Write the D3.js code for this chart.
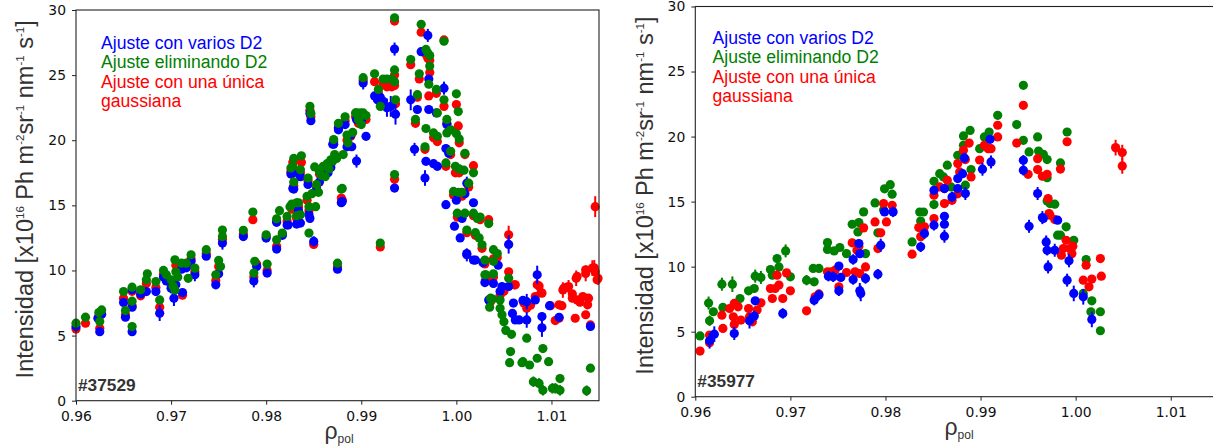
<!DOCTYPE html>
<html>
<head>
<meta charset="utf-8">
<script src="https://cdn.jsdelivr.net/npm/d3@7"></script>
<style>
  body { margin: 0; background: #fff; }
  svg text { font-family: "DejaVu Sans", sans-serif; }
</style>
</head>
<body>
<div id="chart"></div>
<script>
// ---- data ----
const xTicks = [0.96, 0.97, 0.98, 0.99, 1.00, 1.01];
const yTicks = [0, 5, 10, 15, 20, 25, 30];
const legendLabels = ["Ajuste con varios D2", "Ajuste eliminando D2", "Ajuste con una única", "gaussiana"];
const shotLabels = ["#37529", "#35977"];

// [rho, intensity, error]  (error left out = small bar hidden by marker)
const leftBlue = [
  [0.9600,5.7],[0.9625,5.3],[0.9623,6.33],[0.9627,6.64],[0.9650,7.54],[0.9652,6.41],[0.9659,8.51],
  [0.9659,7.18],[0.9659,5.3],[0.9668,8.2],[0.9674,8.38],[0.9684,8.38],[0.9688,6.72,0.6],[0.9692,9.5],
  [0.9695,9.2],[0.9700,8.64,0.4],[0.9703,7.87,0.6],[0.9705,8.9],[0.9711,10.1],[0.9716,10.2],[0.9712,8.3],
  [0.9721,10.7],[0.9725,9.67,0.5],[0.9737,11.1],[0.9750,9.74],[0.9747,8.9],[0.9754,12.1,0.5],[0.9776,12.6],
  [0.9787,9.2,0.5],[0.9790,10.3],[0.9800,12.49],[0.9801,9.8],[0.9811,13.7],[0.9811,11.64],[0.9817,12.7],
  [0.9822,13.5],[0.9823,13.5],[0.9826,17.4],[0.9828,17.48],[0.9829,16.25],[0.9828,16.3],[0.9832,13.56],
  [0.9836,13.64],[0.9836,17.2],[0.9834,14.6],[0.9844,16.6],[0.9845,14.3],[0.9846,14.0],[0.9846,22.05],
  [0.9847,21.5],[0.9850,12.23,0.4],[0.9853,16.2],[0.9856,16.8],[0.9860,17.2],[0.9865,17.5],[0.9868,17.9],
  [0.9871,19.7],[0.9870,19.7],[0.9875,10.1],[0.9876,20.8],[0.9876,20.9],[0.9879,15.2],[0.9880,15.3],
  [0.9883,21.2],[0.9885,19.5],[0.9889,20.4],[0.9890,19.5],[0.9895,18.4,0.5],[0.9895,21.6],[0.9900,21.5],
  [0.9902,24.4,0.5],[0.9905,20.3],[0.9914,23.4],[0.9917,23.1],[0.9920,23.3],[0.9923,23.0],[0.9927,22.5,0.7],
  [0.9931,22.6,0.8],[0.9935,27.0,0.5],[0.9936,22.0,0.8],[0.9935,16.33],[0.9952,23.1,0.8],[0.9956,19.3,0.5],
  [0.9959,22.36],[0.9963,26.8],[0.9967,17.1,0.6],[0.9968,18.38],[0.9970,28.05,0.5],[0.9971,24.7],
  [0.9971,22.36],[0.9976,18.2],[0.9979,22.1],[0.9980,18.0],[0.9987,24.0,0.5],[0.9989,19.36],[0.9989,15.05],
  [0.9990,21.2],[0.9992,19.0],[0.9998,13.4],[1.0000,15.4],[1.0004,12.5],[1.0006,14.0],[1.0009,15.9],
  [1.0011,16.7,0.5],[1.0011,11.2,0.5],[1.0011,11.3],[1.0018,15.2],[1.0018,10.8],[1.0020,10.8],[1.0028,10.6],
  [1.0030,9.07],[1.0034,7.74],[1.0039,9.0],[1.0044,10.4],[1.0046,8.4],[1.0048,8.77],[1.0055,8.77],
  [1.0055,12.0,0.7],[1.0059,6.7],[1.0060,7.5],[1.0062,6.2],[1.0066,6.2],[1.0070,7.7],[1.0074,6.2,0.6],
  [1.0074,7.6,0.6],[1.0083,7.74],[1.0085,9.67,0.7],[1.0090,6.46],[1.0090,5.6,0.7],[1.0098,7.3],
  [1.0108,6.4],[1.0141,5.7]
];
const leftGreen = [
  [0.9600,5.95],[0.9610,6.41],[0.9624,6.77],[0.9627,6.97],[0.9625,6.08],[0.9650,8.38],[0.9652,6.92],
  [0.9659,8.72],[0.9659,7.64],[0.9659,5.69],[0.9668,8.51],[0.9674,9.28],[0.9675,9.74],[0.9684,9.15],
  [0.9688,7.74],[0.9692,10.0],[0.9695,9.67],[0.9700,9.28],[0.9702,8.8],[0.9704,8.5],[0.9705,9.9],
  [0.9707,9.5],[0.9704,10.82],[0.9711,10.56],[0.9716,10.56],[0.9721,11.2],[0.9725,10.18],[0.9718,9.4],
  [0.9737,11.6],[0.9750,10.77],[0.9747,9.67],[0.9752,10.3],[0.9754,13.1],[0.9754,12.6],[0.9776,13.08],
  [0.9786,14.49],[0.9788,10.7],[0.9787,9.8],[0.9800,12.74],[0.9801,10.49],[0.9811,13.97],[0.9814,14.59],
  [0.9811,12.36],[0.9817,12.87],[0.9822,14.15],[0.9825,14.9],[0.9827,15.1],[0.9828,18.0],[0.9829,18.6],
  [0.9826,17.87],[0.9829,16.8],[0.9832,15.2],[0.9832,14.2],[0.9836,14.28],[0.9834,15.2],[0.9837,18.8],
  [0.9836,17.74],[0.9843,15.69],[0.9844,17.1],[0.9845,14.9],[0.9845,12.87],[0.9846,22.6],[0.9847,22.05],
  [0.9848,15.9],[0.9851,17.95],[0.9852,14.9],[0.9853,16.6],[0.9855,16.0],[0.9856,17.6],[0.9858,17.3],
  [0.9860,18.0],[0.9862,17.2],[0.9864,18.2],[0.9866,17.8],[0.9868,18.5],[0.9870,18.4],[0.9871,20.05],
  [0.9872,18.9],[0.9874,18.6],[0.9875,10.56],[0.9876,21.3],[0.9879,16.25],[0.9880,16.3],[0.9881,18.9],
  [0.9883,21.8],[0.9885,20.4],[0.9886,19.8],[0.9891,20.6],[0.9894,22.1],[0.9895,22.1],[0.9897,21.6],
  [0.9899,22.1],[0.9900,21.2],[0.9902,22.1],[0.9902,24.8],[0.9905,21.9],[0.9914,25.1],[0.9918,23.9],
  [0.9920,22.6],[0.9920,12.1],[0.9923,24.7],[0.9927,24.7],[0.9932,24.7],[0.9935,29.4],[0.9935,25.4],
  [0.9935,24.5],[0.9936,23.1],[0.9935,17.36],[0.9952,26.2],[0.9957,21.6],[0.9959,23.5],[0.9961,25.1],
  [0.9963,28.9],[0.9967,19.5],[0.9968,26.97],[0.9968,20.9],[0.9970,26.7],[0.9971,24.3],[0.9972,26.5],
  [0.9972,25.7],[0.9976,20.56],[0.9979,23.9],[0.9980,22.1],[0.9980,20.3],[0.9987,27.6],[0.9987,23.1],
  [0.9989,18.26],[0.9990,21.6],[0.9990,20.56],[0.9994,20.8],[0.9994,19.15],[0.9997,16.07],[0.9999,18.0],
  [1.0000,23.56],[1.0000,20.5],[1.0001,14.4],[1.0002,22.2],[1.0002,16.0],[1.0003,20.1],[1.0003,17.8],
  [1.0006,16.0],[1.0008,17.7],[1.0009,19.0],[1.0009,14.4],[1.0011,13.1],[1.0013,16.7],[1.0018,17.5],
  [1.0018,14.4],[1.0020,12.9],[1.0022,14.0],[1.0024,12.5],[1.0025,14.1],[1.0027,11.97],[1.0030,10.8],
  [1.0030,9.67],[1.0031,9.67],[1.0034,13.6],[1.0035,7.18],[1.0036,7.87],[1.0038,7.8],[1.0039,10.7],
  [1.0039,9.74],[1.0039,11.6],[1.0043,11.3],[1.0046,7.74],[1.0046,7.1],[1.0048,6.6],[1.0050,6.07],
  [1.0052,5.4],[1.0055,9.4],[1.0058,5.1],[1.0056,2.92],[1.0057,3.77],[1.0069,2.92],[1.0070,3.0],
  [1.0074,4.8],[1.0077,2.74],[1.0081,1.46,0.4],[1.0085,3.26],[1.0087,1.33,0.4],[1.0091,0.8,0.4],[1.0091,4.0],
  [1.0097,3.0],[1.0101,0.95,0.4],[1.0104,0.95,0.4],[1.0109,1.7],[1.0109,0.8,0.4],[1.0137,0.77,0.4],[1.0141,2.5]
];
const leftRed = [
  [0.9600,5.5],[0.9610,5.95],[0.9625,5.56],[0.9624,6.5],[0.9650,7.87],[0.9652,6.59],[0.9659,8.4],
  [0.9659,7.3],[0.9668,8.05],[0.9674,9.0],[0.9684,8.7],[0.9688,7.18],[0.9692,9.7],[0.9700,8.9],
  [0.9705,10.4],[0.9711,10.3],[0.9716,10.3],[0.9712,8.1],[0.9721,10.9],[0.9725,9.9],[0.9737,11.3],
  [0.9750,10.3],[0.9747,9.23],[0.9754,12.4],[0.9776,12.8],[0.9786,13.9],[0.9787,9.5],[0.9790,10.5],
  [0.9800,12.6],[0.9801,10.0],[0.9811,11.85],[0.9811,13.8],[0.9817,12.8],[0.9822,13.8],[0.9827,14.7],
  [0.9828,18.3],[0.9829,16.5],[0.9826,17.6],[0.9832,14.0],[0.9834,14.9],[0.9837,18.3],[0.9836,17.5],
  [0.9843,15.4],[0.9844,16.9],[0.9845,14.6],[0.9846,22.3],[0.9847,21.8],[0.9850,12.0],[0.9853,16.4],
  [0.9856,17.4],[0.9860,17.7],[0.9864,17.9],[0.9868,18.2],[0.9871,19.9],[0.9875,10.3],[0.9876,21.0],
  [0.9879,15.56],[0.9880,15.4],[0.9883,21.5],[0.9885,20.0],[0.9889,20.3],[0.9894,21.8],[0.9897,21.3],
  [0.9902,24.6],[0.9905,21.6],[0.9914,24.5],[0.9918,23.6],[0.9920,11.8],[0.9923,24.3],[0.9927,24.1],
  [0.9932,24.1],[0.9935,29.15],[0.9935,25.0],[0.9935,24.2],[0.9936,22.8],[0.9935,17.0],[0.9952,25.8],
  [0.9957,21.3],[0.9959,23.3],[0.9961,24.7],[0.9963,28.3],[0.9967,19.3],[0.9968,26.6],[0.9970,26.3],
  [0.9971,23.4],[0.9972,26.15],[0.9972,25.2],[0.9976,20.2],[0.9979,23.6],[0.9980,19.9],[0.9987,27.7],
  [0.9987,22.6],[0.9989,18.0],[0.9990,21.3],[0.9994,18.9],[0.9997,15.8],[0.9999,17.5],[1.0000,22.74],
  [1.0001,14.1],[1.0002,21.1],[1.0003,19.8],[1.0003,17.5],[1.0006,15.7],[1.0009,18.9],[1.0011,12.9],
  [1.0013,16.4],[1.0018,18.05],[1.0018,14.2],[1.0020,12.7],[1.0025,13.9],[1.0027,11.7],[1.0030,10.5],
  [1.0031,9.3],[1.0034,13.9],[1.0036,7.6],[1.0039,10.9],[1.0039,9.5],[1.0043,11.0],[1.0046,8.1],
  [1.0050,8.4],[1.0055,9.9],[1.0055,12.74,0.7],[1.0061,8.9],[1.0062,8.9],[1.0071,7.5],[1.0074,7.1],
  [1.0078,7.33],[1.0083,8.0],[1.0085,8.9],[1.0087,8.8],[1.0089,8.3],[1.0090,8.26],[1.0099,7.3],
  [1.0104,6.15],[1.0108,7.36],[1.0108,6.33],[1.0111,7.3],[1.0112,8.5,0.6],[1.0113,8.64],[1.0116,8.7],
  [1.0118,8.77,0.5],[1.0122,8.2],[1.0122,7.87],[1.0125,6.33],[1.0126,9.4,0.6],[1.0127,9.54],[1.0127,7.74],
  [1.0130,7.56],[1.0133,8.0],[1.0136,6.6],[1.0136,9.77,0.6],[1.0136,10.05],[1.0138,7.36],[1.0139,7.87],
  [1.0141,5.82],[1.0143,10.18,0.6],[1.0145,10.2,0.6],[1.0146,9.9],[1.0146,14.9,0.8],[1.0148,9.28],
  [1.0149,9.4,0.5]
];

const rightGreen = [
  [0.9605,4.67],[0.9614,7.2,0.5],[0.9615,5.84,0.4],[0.9619,6.53],[0.9628,8.65,0.5],[0.9629,6.86],
  [0.9639,8.65,0.6],[0.9647,7.55],[0.9656,8.14],[0.9662,8.32],[0.9663,9.27,0.5],[0.9669,9.17,0.5],
  [0.9679,9.78],[0.9681,9.34],[0.9686,10.62],[0.9688,9.98],[0.9695,11.21,0.5],[0.9700,9.22],
  [0.9717,8.96,0.4],[0.9724,9.86],[0.9725,8.83],[0.9730,9.86],[0.9739,11.85],[0.9739,11.32],
  [0.9746,11.21],[0.9752,11.47],[0.9759,11.0],[0.9765,13.26],[0.9771,12.67],[0.9772,13.39],[0.9777,14.21],
  [0.9779,11.0],[0.9789,14.9],[0.9792,12.6],[0.9798,14.36],[0.9799,15.98],[0.9805,16.3],[0.9807,15.57],
  [0.9828,11.9],[0.9836,14.2],[0.9837,13.5],[0.9840,14.2],[0.9851,16.56],[0.9851,14.77],[0.9857,17.15],
  [0.9861,16.9],[0.9865,17.8],[0.9869,16.13],[0.9876,18.56],[0.9882,20.05],[0.9882,19.33],[0.9884,16.26],
  [0.9889,20.47],[0.9890,17.46],[0.9899,19.07],[0.9904,19.97],[0.9909,20.35],[0.9918,21.63],[0.9938,20.92],
  [0.9945,23.94],[0.9945,19.71],[0.9951,18.82],[0.9960,19.97],[0.9961,18.89],[0.9966,18.64],[0.9970,18.23],
  [0.9970,16.84],[0.9970,15.05],[0.9973,14.85],[0.9978,14.8],[0.9981,12.42],[0.9984,17.97],[0.9984,12.42],
  [0.9990,13.06],[0.9991,20.35],[0.9998,12.03],[1.0008,7.94],[1.0011,10.55],[1.0016,6.53],[1.0017,7.37],
  [1.0026,6.53],[1.0026,5.07]
];
const rightRed = [
  [0.9605,3.51],[0.9615,4.74],[0.9615,4.15],[0.9628,6.27],[0.9629,5.25],[0.9636,6.78],[0.9640,6.14],
  [0.9641,7.17],[0.9641,5.56],[0.9645,6.91],[0.9648,5.89],[0.9656,6.78],[0.9657,6.14],[0.9660,5.76],
  [0.9665,6.66],[0.9669,7.22],[0.9679,8.32],[0.9681,7.55],[0.9684,8.32],[0.9686,9.34],[0.9688,8.58],
  [0.9692,7.55],[0.9696,9.52],[0.9700,8.14],[0.9717,6.6],[0.9726,7.68],[0.9730,7.9],[0.9739,9.6],
  [0.9743,9.6],[0.9747,9.73],[0.9751,8.45],[0.9759,9.55],[0.9765,11.83],[0.9768,9.6],[0.9770,11.26],
  [0.9772,11.57],[0.9773,9.47],[0.9777,12.98],[0.9779,9.98],[0.9789,13.44],[0.9792,11.39],[0.9795,12.6],
  [0.9798,14.85],[0.9801,13.44],[0.9807,14.72],[0.9828,10.96],[0.9835,13.0],[0.9837,12.3],[0.9841,13.06],
  [0.9851,15.49],[0.9851,13.7],[0.9857,16.13],[0.9862,16.0],[0.9862,14.85],[0.9865,16.64],[0.9870,15.1],
  [0.9876,17.92],[0.9876,15.6],[0.9878,17.28],[0.9882,18.95],[0.9884,18.23],[0.9888,19.5],[0.9890,16.9],
  [0.9899,18.2],[0.9904,19.33],[0.9908,19.07],[0.9911,19.07],[0.9918,20.87],[0.9918,19.97],[0.9938,19.5],
  [0.9945,22.4],[0.9950,17.1],[0.9960,18.3],[0.9960,17.46],[0.9965,16.95],[0.9970,17.1],[0.9971,15.23],
  [0.9972,14.08],[0.9973,13.95],[0.9978,13.62],[0.9984,17.5],[0.9985,10.88],[0.9987,11.39],[0.9990,12.03],
  [0.9991,19.6],[0.9994,11.39],[0.9996,11.0],[0.9997,11.57],[1.0008,8.96],[1.0011,10.11],[1.0014,8.45],
  [1.0017,9.04],[1.0026,10.62],[1.0027,9.27],[1.0042,19.15,0.6],[1.0049,18.77,0.6],[1.0049,17.74,0.6]
];
const rightBlue = [
  [0.9615,4.3,0.6],[0.9620,4.81,0.6],[0.9641,4.86,0.5],[0.9657,5.84,0.6],[0.9662,6.2,0.4],[0.9663,7.37],
  [0.9692,6.4,0.4],[0.9725,7.42,0.4],[0.9730,7.81,0.4],[0.9740,9.27,0.4],[0.9745,9.22,0.4],[0.9751,10.04],
  [0.9753,9.17],[0.9751,8.14,0.4],[0.9766,10.55,0.4],[0.9766,9.01,0.4],[0.9772,11.78],[0.9773,11.0],
  [0.9773,8.14,0.6],[0.9774,7.94,0.6],[0.9779,9.09,0.4],[0.9792,9.42,0.4],[0.9795,11.65,0.5],[0.9799,14.21],
  [0.9808,14.21,0.4],[0.9837,11.52,0.4],[0.9841,12.54,0.4],[0.9851,15.87],[0.9851,13.18,0.4],[0.9862,16.0],
  [0.9862,13.87],[0.9862,13.26],[0.9862,12.34,0.5],[0.9870,15.36,0.4],[0.9876,16.0],[0.9876,16.77],
  [0.9881,17.15],[0.9883,18.36,0.4],[0.9884,15.62,0.5],[0.9902,17.49,0.5],[0.9910,19.79],[0.9911,18.05,0.5],
  [0.9945,18.18,0.4],[0.9945,17.41,0.4],[0.9951,13.1,0.5],[0.9960,15.62,0.5],[0.9965,13.77,0.5],
  [0.9966,13.7],[0.9969,11.9,0.5],[0.9970,11.26,0.4],[0.9971,9.98,0.5],[0.9978,11.26,0.5],[0.9981,13.57],
  [0.9991,8.96,0.5],[0.9993,10.45,0.5],[0.9998,7.94,0.6],[1.0008,7.68,0.6],[1.0017,5.94,0.6]
];

// ---- settings ----
const colors = { blue: "#0000ff", green: "#008000", red: "#ff0000" };
const W = 1213, H = 448;

const panels = [
  { left: 76, top: 10, width: 523, height: 390.7, shot: shotLabels[0],
    layers: [["red", leftRed], ["blue", leftBlue], ["green", leftGreen]],
    legendX: 101, legendY: 49, ylabX: 33, xlabX: 339 },
  { left: 695.3, top: 6.5, width: 523, height: 390.2, shot: shotLabels[1],
    layers: [["green", rightGreen], ["red", rightRed], ["blue", rightBlue]],
    legendX: 712.5, legendY: 44, ylabX: 653, xlabX: 959 }
];

const svg = d3.select("#chart").append("svg")
  .attr("width", W).attr("height", H);

const drawPanel = function(p) {
  const x = d3.scaleLinear().domain([0.96, 1.015]).range([p.left, p.left + p.width]);
  const y = d3.scaleLinear().domain([0, 30]).range([p.top + p.height, p.top]);
  const g = svg.append("g");

  // points: error bar + marker
  p.layers.forEach(function(layer) {
    const col = colors[layer[0]];
    const pts = g.append("g").selectAll("g").data(layer[1]).join("g");
    pts.append("line")
      .attr("x1", d => x(d[0])).attr("x2", d => x(d[0]))
      .attr("y1", d => y(d[1] - (d[2] || 0.3))).attr("y2", d => y(d[1] + (d[2] || 0.3)))
      .attr("stroke", col).attr("stroke-width", 2);
    pts.append("circle")
      .attr("cx", d => x(d[0])).attr("cy", d => y(d[1]))
      .attr("r", 4.6).attr("fill", col);
  });

  // frame
  g.append("rect")
    .attr("x", p.left).attr("y", p.top).attr("width", p.width).attr("height", p.height)
    .attr("fill", "none").attr("stroke", "#222").attr("stroke-width", 1.1);

  const xAxis = g.append("g")
    .attr("transform", `translate(0,${p.top + p.height})`)
    .call(d3.axisBottom(x).tickValues(xTicks).tickFormat(d3.format(".2f")).tickSize(4).tickPadding(6));
  const yAxis = g.append("g")
    .attr("transform", `translate(${p.left},0)`)
    .call(d3.axisLeft(y).tickValues(yTicks).tickSize(4).tickPadding(6));
  [xAxis, yAxis].forEach(a => {
    a.select(".domain").remove();
    a.selectAll("line").attr("stroke", "#222");
    a.selectAll("text").attr("font-size", "13.9px").attr("fill", "#111")
      .attr("font-family", "DejaVu Sans");
  });

  // legend text
  const legCols = [colors.blue, colors.green, colors.red, colors.red];
  legendLabels.forEach(function(t, i) {
    g.append("text")
      .attr("x", p.legendX).attr("y", p.legendY + i * 19.3)
      .attr("fill", legCols[i])
      .style("font-family", "'Liberation Sans', Arial, sans-serif")
      .style("font-size", "17.6px")
      .text(t);
  });

  // shot number
  g.append("text")
    .attr("x", p.left + 2).attr("y", p.top + p.height - 10)
    .attr("fill", "#333")
    .style("font-family", "'Liberation Sans', Arial, sans-serif")
    .style("font-size", "17.3px").style("font-weight", "bold")
    .text(p.shot);

  // y label
  const yl = g.append("text")
    .attr("transform", `translate(${p.ylabX},${p.top + p.height / 2 - 6}) rotate(-90)`)
    .attr("text-anchor", "middle").attr("fill", "#333")
    .style("font-family", "'Liberation Sans', Arial, sans-serif")
    .style("font-size", "23.5px");
  const parts = [["Intensidad [x10", 0], ["16", 1], [" Ph m", 0], ["-2", 1], ["sr", 0], ["-1", 1],
                 [" nm", 0], ["-1", 1], [" s", 0], ["-1", 1], ["]", 0]];
  let up = false;
  parts.forEach(function(pt) {
    const ts = yl.append("tspan").text(pt[0]);
    if (pt[1]) { ts.style("font-size", "11.5px").attr("dy", up ? 0 : -9.5); up = true; }
    else { ts.attr("dy", up ? 9.5 : 0); up = false; }
  });

  // x label
  const xl = g.append("text")
    .attr("x", p.xlabX).attr("y", p.top + p.height + 38)
    .attr("text-anchor", "middle").attr("fill", "#333")
    .style("font-family", "'Liberation Sans', Arial, sans-serif")
    .style("font-size", "23px");
  xl.append("tspan").text("ρ");
  xl.append("tspan").text("pol").style("font-size", "12px").attr("dy", 4);
}

panels.forEach(drawPanel);
</script>
</body>
</html>
